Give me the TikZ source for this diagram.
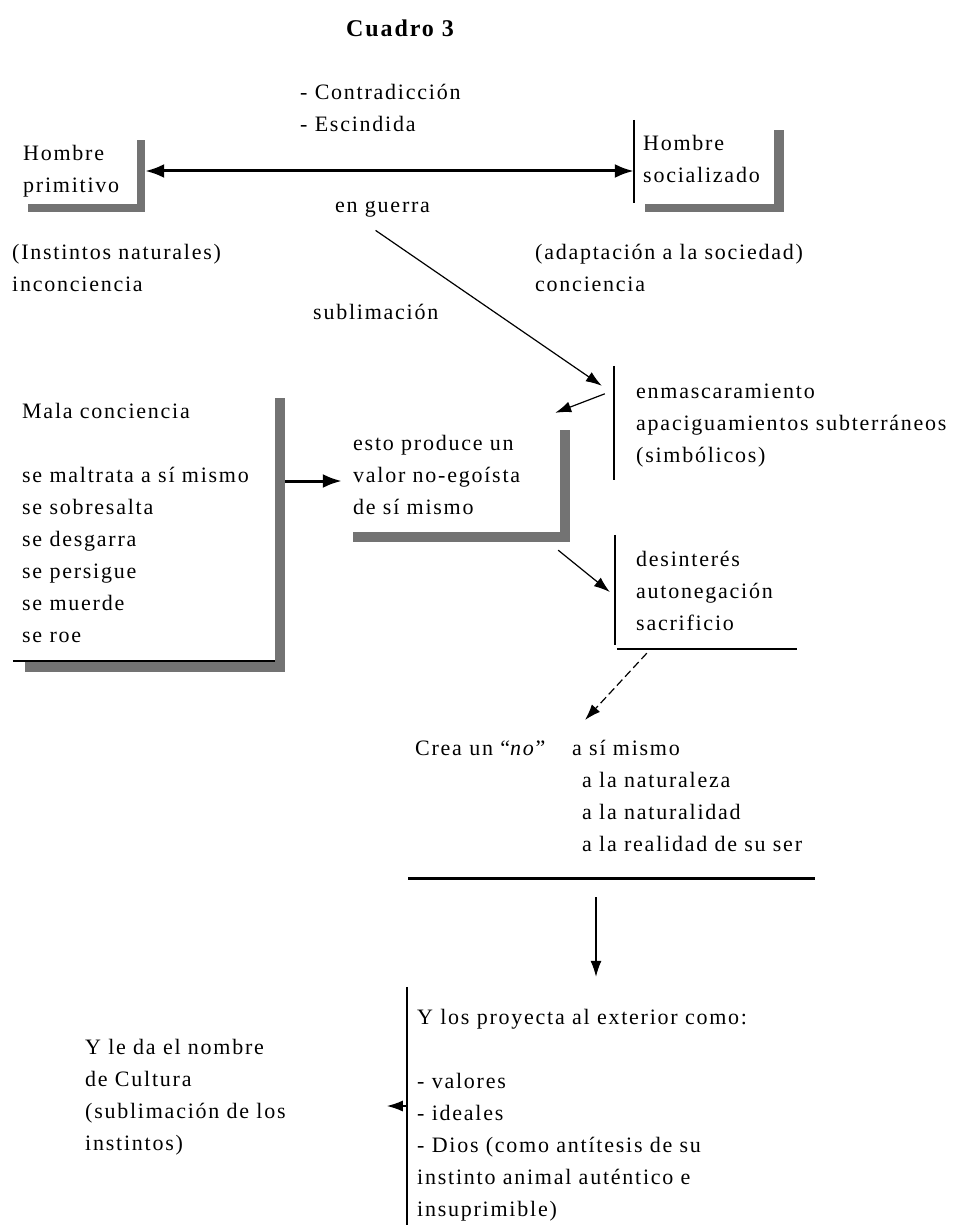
\documentclass[tikz,border=0pt]{standalone}
\usepackage{fontspec}
\setmainfont{Liberation Serif}[LetterSpace=8]
\usetikzlibrary{arrows.meta, fit}

\newcommand{\cuadrofont}{\fontsize{22pt}{32pt}\selectfont}

\begin{document}
\begin{tikzpicture}[x=1pt, y=-1pt,
  >={Latex[length=16pt, width=11pt]},
  txt/.style={anchor=north west, inner sep=0pt, align=left, font=\cuadrofont},
  %
  frame/.style={inner sep=0pt, draw=none},
  %
  shade/.style={fill=black!55},
  %
  edge/.style={line width=1.5pt},
  %
  link/.style={->, line width=1.2pt},
  %
  heavy/.style={line width=3pt, >={Latex[length=19pt, width=14pt]}}
  ]

  \useasboundingbox (0,0) rectangle (960,1225);

  \node[txt, font=\fontsize{24pt}{32pt}\selectfont\bfseries, anchor=base] (title) at (400,37) {Cuadro 3};
  \node[txt] (contra) at (300,77) {\strut - Contradicción\\- Escindida};

  %%%%%%%%%%%%%%%%%%%%%%%%%%%%%%%
  \node[frame, fit={(13,130) (145,212)}] (prim) {};
  \node[txt] (primtxt) at (23,138) {\strut Hombre\\primitivo};
  \fill[shade] ([shift={(-8,10)}]prim.north east) rectangle (prim.south east);
  \fill[shade] ([shift={(15,-8)}]prim.south west) rectangle (prim.south east);

  \node[frame, fit={(634,120) (784,212)}] (soc) {};
  \node[txt] (soctxt) at (643,128) {\strut Hombre\\socializado};
  \draw[edge] (soc.north west) -- ([yshift=9pt]soc.south west);
  \fill[shade] ([shift={(-10,10)}]soc.north east) rectangle (soc.south east);
  \fill[shade] ([shift={(11,-8)}]soc.south west) rectangle (soc.south east);

  \draw[<->, heavy] (prim.east) -- (prim.east -| soc.west);

  \node[txt] (guerra) at (335,190) {\strut en guerra};
  \node[txt] (instintos) at (12,237) {\strut (Instintos naturales)\\inconciencia};
  \node[txt] (adapt) at (535,237) {\strut (adaptación a la sociedad)\\conciencia};
  \node[txt] (subl) at (313,297) {\strut sublimación};

  %%%%%%%%%%%%%%%%%%%%%%%%%%%%%%%
  \node[frame, fit={(614,366) (950,480)}] (enm) {};
  \node[txt] (enmtxt) at (636,376) {\strut enmascaramiento\\apaciguamientos subterráneos\\(simbólicos)};
  \draw[edge] (enm.north west) -- (enm.south west);

  \node[frame, fit={(342,420) (570,542)}] (esto) {};
  \node[txt] (estotxt) at (353,428) {\strut esto produce un\\valor no-egoísta\\de sí mismo};
  \fill[shade] ([shift={(-10,10)}]esto.north east) rectangle (esto.south east);
  \fill[shade] ([shift={(11,-10)}]esto.south west) rectangle (esto.south east);

  \node[frame, fit={(13,398) (285,672)}] (mala) {};
  \node[txt] (malatxt) at (22,396) {\strut Mala conciencia\\[32pt]se maltrata a sí mismo\\se sobresalta\\se desgarra\\se persigue\\se muerde\\se roe};
  \draw[edge] ([yshift=11pt]mala.south west) -- ([shift={(-10,-11)}]mala.south east);
  \fill[shade] ([shift={(-10,0)}]mala.north east) rectangle (mala.south east);
  \fill[shade] ([shift={(12,-10)}]mala.south west) rectangle (mala.south east);

  \node[frame, fit={(615,535) (797,649)}] (des) {};
  \node[txt] (destxt) at (636,544) {\strut desinterés\\autonegación\\sacrificio};
  \draw[edge] (des.north west) -- ([yshift=4pt]des.south west);
  \draw[edge] ([xshift=2pt]des.south west) -- (des.south east);

  \draw[link] ([shift={(-7,8)}]guerra.south) -- ([shift={(-12,20)}]enm.north west);
  \draw[link] ([shift={(-9,28)}]enm.north west) -- ([shift={(-15,-7)}]esto.north east);
  \draw[->, heavy] (esto.west -| mala.east) -- (esto.west);
  \draw[link] ([shift={(-12,8)}]esto.south east) -- ([xshift=-5pt]des.west);

  %%%%%%%%%%%%%%%%%%%%%%%%%%%%%%%
  \node[txt] (crea) at (415,733) {\strut Crea un “\textit{no}”};
  \node[txt] (negs) at (572,733) {\strut a sí mismo\\\hspace*{10pt}a la naturaleza\\\hspace*{10pt}a la naturalidad\\\hspace*{10pt}a la realidad de su ser};
  \draw[link, dash pattern=on 8pt off 4pt] ([shift={(32,4)}]des.south west) -- ([shift={(13,-13)}]negs.north west);

  \draw[heavy] (408,878) coordinate (sepL) -- (815,878) coordinate (sepR);
  \coordinate (down) at ([shift={(188,19)}]sepL);

  \node[frame, fit={(407,987) (870,1225)}] (proj) {};
  \node[txt] (projtxt) at (417,1002) {\strut Y los proyecta al exterior como:\\[32pt]- valores\\- ideales\\- Dios (como antítesis de su\\instinto animal auténtico e\\insuprimible)};
  \draw[edge] (proj.north west) -- (proj.south west);
  \draw[link, shorten >=10pt] (down) -- (down |- proj.north);

  \node[txt] (cultura) at (85,1032) {\strut Y le da el nombre\\de Cultura\\(sublimación de los\\instintos)};
  \draw[->, edge] (proj.west) -- ([xshift=-20pt]proj.west);

\end{tikzpicture}
\end{document}
